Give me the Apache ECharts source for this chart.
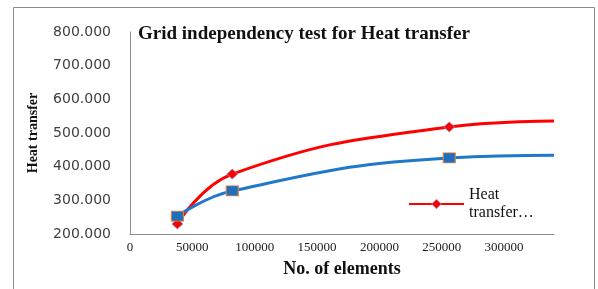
<!DOCTYPE html>
<html>
	<head>
		<meta charset="UTF-8">
		<title></title>
		<script src="https://cdn.jsdelivr.net/npm/echarts@6/dist/echarts.min.js" type="text/javascript" charset="utf-8"></script>
		<style>
			html, body { margin: 0; padding: 0; background: #fff; }
		</style>
	</head>
	<body>
		<div id="chart" style="width: 598px;height: 289px;"></div>
		<script type="text/javascript">
			// data
			var elements = [38000, 82000, 256000, 340000];
			var heatRed = [230, 378, 518, 536];
			var heatBlue = [253, 328, 426, 434];
			var redName = 'Heat transfer…';
			var blueName = 'Heat transfer (fine)';

			function pairs(xs, ys) {
				var out = [];
				for (var i = 0; i < xs.length; i++) {
					var p = {value: [xs[i], ys[i]]};
					// last point only carries the curve to the axis end
					if (i == xs.length - 1) p.symbol = 'none';
					out.push(p);
				}
				return out;
			}

			var chart = echarts.init(document.getElementById('chart'));
			var option = {
				animation: false,
				title: {
					text: 'Grid independency test for Heat transfer',
					left: 133,
					top: 20,
					textStyle: {fontFamily: 'Liberation Serif', fontWeight: 'bold', fontSize: 19, color: '#111'}
				},
				graphic: [{
					type: 'rect',
					shape: {x: 13.5, y: 7.5, width: 581, height: 300},
					style: {fill: 'none', stroke: '#8c8c8c', lineWidth: 1},
					silent: true
				}],
				legend: {
					data: [redName],
					left: 403,
					top: 172,
					itemWidth: 55,
					itemHeight: 12,
					itemStyle: {color: '#ff0000', borderColor: '#7b9fd4', borderWidth: 0.8},
					formatter: function () { return 'Heat\ntransfer…'; },
					textStyle: {fontFamily: 'Liberation Serif', fontSize: 16, color: '#111', lineHeight: 18, padding: [18, 0, 0, 0]}
				},
				grid: {left: 130, right: 44, top: 32, bottom: 55},
				xAxis: {
					type: 'value',
					min: 0,
					max: 340000,
					interval: 50000,
					name: 'No. of elements',
					nameLocation: 'middle',
					nameGap: 26,
					nameTextStyle: {fontFamily: 'Liberation Serif', fontWeight: 'bold', fontSize: 18, color: '#111'},
					axisLine: {lineStyle: {color: '#8c8c8c'}},
					axisTick: {show: false},
					splitLine: {show: false},
					axisLabel: {
						fontFamily: 'Liberation Serif', fontSize: 13, color: '#222', margin: 7, showMaxLabel: false,
						formatter: function (v) { return String(v); }
					}
				},
				yAxis: {
					type: 'value',
					min: 200,
					max: 800,
					interval: 100,
					name: 'Heat transfer',
					nameLocation: 'middle',
					nameGap: 90,
					nameTextStyle: {fontFamily: 'Liberation Serif', fontWeight: 'bold', fontSize: 14, color: '#111'},
					axisLine: {show: true, lineStyle: {color: '#8c8c8c'}},
					axisTick: {show: false},
					splitLine: {show: false},
					axisLabel: {
						fontFamily: 'DejaVu Sans', fontSize: 14, color: '#404040', margin: 19,
						formatter: function (v) { return v.toFixed(3); }
					}
				},
				series: [
					{
						name: redName,
						type: 'line',
						smooth: 0.45,
						data: pairs(elements, heatRed),
						symbol: 'diamond',
						symbolSize: [11, 10],
						lineStyle: {color: '#ff0000', width: 3},
						itemStyle: {color: '#ff0000', borderColor: '#7b9fd4', borderWidth: 0.8},
						z: 2
					},
					{
						name: blueName,
						type: 'line',
						smooth: 0.45,
						data: pairs(elements, heatBlue),
						symbol: 'rect',
						symbolSize: [12, 10],
						lineStyle: {color: '#1f78c8', width: 3},
						itemStyle: {color: '#1f6fbd', borderColor: '#e0803a', borderWidth: 1},
						z: 3
					}
				]
			};
			chart.setOption(option, true);
		</script>
	</body>
</html>
